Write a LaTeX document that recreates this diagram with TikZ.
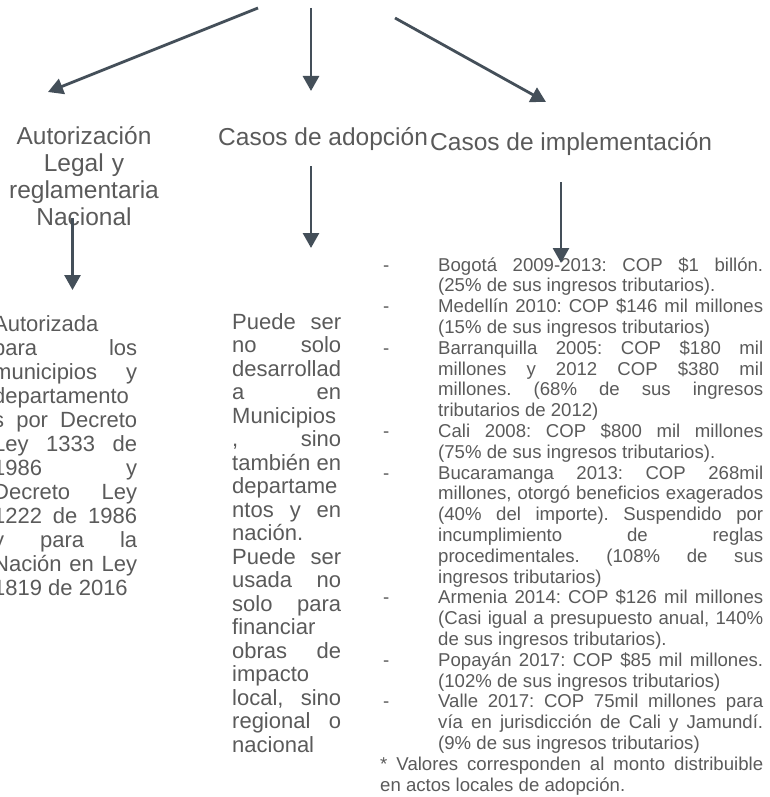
\documentclass[tikz,border=0pt]{standalone}
\usepackage{fontspec}
\setmainfont{Liberation Sans}
\usepackage{xcolor}
\usetikzlibrary{arrows.meta}
\definecolor{textogris}{HTML}{5A5A5A}
\definecolor{flechagris}{HTML}{444F59}
% lineas justificadas
\newcommand{\jlinea}[1]{\makebox[\linewidth][s]{#1}}
\newcommand{\casoini}[1]{\hspace*{3pt}\makebox[55pt][l]{-}\makebox[325pt][s]{#1}}
\newcommand{\casosig}[1]{\hspace*{58pt}\makebox[325pt][s]{#1}}
\newcommand{\casofin}[1]{\hspace*{58pt}#1}

\begin{document}
\begin{tikzpicture}[x=1pt,y=-1pt]
    \tikzset{flecha/.style = {draw=flechagris, line width=2.8pt, -{Triangle[length=15pt,width=16pt]}}}
    \tikzset{titulo/.style = {text=textogris, inner sep=0pt, font=\fontsize{24.5}{27}\selectfont}}
    \tikzset{columna/.style = {text=textogris, inner sep=0pt, align=justify, anchor=base west}}
    \useasboundingbox (0,0) rectangle (769,797);
    % titulos
    \node[titulo, text width=170pt, align=center, anchor=base] (autorizacion) at (84,144.5)
        {Autorización\\Legal y\\reglamentaria\\Nacional};
    \node[titulo, anchor=base west] (adopcion) at (218,145) {Casos de adopción};
    \node[titulo, anchor=base west] (implementacion) at (430,150.5) {Casos de implementación};

    % columnas de texto
    \node[columna, text width=144pt, font=\fontsize{22}{24}\selectfont\frenchspacing] (legal) at (-7,331.5)
        {Autorizada\\ \jlinea{para los}\\ \jlinea{municipios y}\\ departamento\\
         \jlinea{s por Decreto}\\ \jlinea{Ley 1333 de}\\ \jlinea{1986 y}\\ \jlinea{Decreto Ley}\\
         \jlinea{1222 de 1986}\\ \jlinea{y para la}\\ \jlinea{Nación en Ley}\\ 1819 de 2016};
    \node[columna, text width=109pt, font=\fontsize{22}{23.5}\selectfont\frenchspacing] (alcance) at (232,329)
        {\jlinea{Puede ser}\\ \jlinea{no solo}\\ desarrollad\\ \jlinea{a en}\\ Municipios\\
         \jlinea{, sino}\\ \jlinea{también en}\\ departame\\ \jlinea{ntos y en}\\ nación.\\
         \jlinea{Puede ser}\\ \jlinea{usada no}\\ \jlinea{solo para}\\ financiar\\ \jlinea{obras de}\\
         impacto\\ \jlinea{local, sino}\\ \jlinea{regional o}\\ nacional};
    \node[columna, text width=383pt, font=\fontsize{18.6}{20.8}\selectfont\frenchspacing] (casos) at (380,271)
        {\casoini{Bogotá 2009-2013: COP \$1 billón.}\\
         \casofin{(25\% de sus ingresos tributarios).}\\
         \casoini{Medellín 2010: COP \$146 mil millones}\\
         \casofin{(15\% de sus ingresos tributarios)}\\
         \casoini{Barranquilla 2005: COP \$180 mil}\\
         \casosig{millones y 2012 COP \$380 mil}\\
         \casosig{millones. (68\% de sus ingresos}\\
         \casofin{tributarios de 2012)}\\
         \casoini{Cali 2008: COP \$800 mil millones}\\
         \casofin{(75\% de sus ingresos tributarios).}\\
         \casoini{Bucaramanga 2013: COP 268mil}\\
         \casosig{millones, otorgó beneficios exagerados}\\
         \casosig{(40\% del importe). Suspendido por}\\
         \casosig{incumplimiento de reglas}\\
         \casosig{procedimentales. (108\% de sus}\\
         \casofin{ingresos tributarios)}\\
         \casoini{Armenia 2014: COP \$126 mil millones}\\
         \casosig{(Casi igual a presupuesto anual, 140\%}\\
         \casofin{de sus ingresos tributarios).}\\
         \casoini{Popayán 2017: COP \$85 mil millones.}\\
         \casofin{(102\% de sus ingresos tributarios)}\\
         \casoini{Valle 2017: COP 75mil millones para}\\
         \casosig{vía en jurisdicción de Cali y Jamundí.}\\
         \casofin{(9\% de sus ingresos tributarios)}\\
         \jlinea{* Valores corresponden al monto distribuible}\\
         en actos locales de adopción.};

    % puntos de las flechas
    \coordinate (raiz1) at (258,8);
    \coordinate (raiz2) at (311,8);
    \coordinate (raiz3) at (395,18);
    \coordinate (punta1) at (48,92);
    \coordinate (punta2) at (311,91);
    \coordinate (punta3) at (546,102);
    \coordinate (bajoLegal) at (72.5,218);
    \coordinate (bajoAdopcion) at (311,166);
    \coordinate (bajoImpl) at (561,182);
    \coordinate (haciaLegal) at (72.5,290);
    \coordinate (haciaAlcance) at (311,248);
    \coordinate (haciaCasos) at (561,263);

    % flechas
    \draw[flecha] (raiz1) -- (punta1);
    \draw[flecha] (raiz2) -- (punta2);
    \draw[flecha] (raiz3) -- (punta3);
    \draw[flecha] (bajoLegal) -- (haciaLegal);
    \draw[flecha] (bajoAdopcion) -- (haciaAlcance);
    \draw[flecha] (bajoImpl) -- (haciaCasos);
\end{tikzpicture}
\end{document}
